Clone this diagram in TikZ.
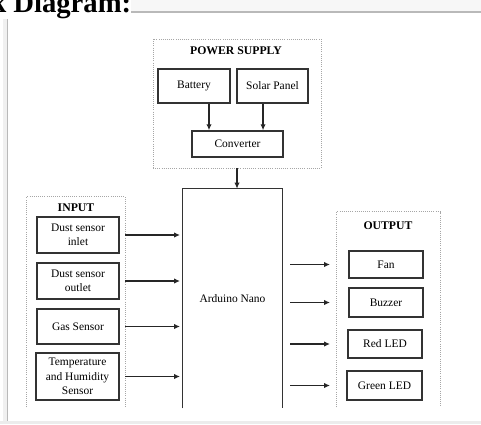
\documentclass[tikz,border=0pt]{standalone}
\usepackage{fontspec}
\setmainfont{Liberation Serif}
\usetikzlibrary{arrows.meta}

\tikzset{
  blk/.style={draw=black!80, line width=1.05pt, align=center, inner sep=1pt,
    font=\fontsize{8.6}{10.8}\selectfont},
  grp/.style={draw=gray!70, densely dotted, line width=0.6pt},
  hdr/.style={font=\fontsize{8.8}{10}\selectfont\bfseries},
  arr/.style={-{Latex[length=4.5pt,width=4pt]}, line width=1pt, black!85},
  side/.style={black!80, line width=1.05pt}
}

\begin{document}
\begin{tikzpicture}[x=0.75pt,y=-0.75pt]
	\useasboundingbox (0,0) rectangle (481,424);
	\fill[gray!6] (0,0) rectangle (481,11);
	\fill[gray!12] (3,12) rectangle (7,421);
	\draw[gray!55, line width=0.8pt] (7,12) -- (481,12);
	\draw[gray!55, line width=1.2pt] (7.5,12) -- (7.5,421);
	\fill[gray!15] (0,421) rectangle (481,424);
	\node[anchor=base west, fill=white, inner sep=0pt,
	  font=\fontsize{21.5}{24}\selectfont\bfseries] (ttl) at (-10,13) {k Diagram:};

	\node[grp, minimum width=126pt, minimum height=96.75pt] (pwr) at (237,103.5) {};
	\node[hdr] (pwrlbl) at (236,51) {POWER SUPPLY};
	\node[blk, minimum width=54pt, minimum height=25.5pt] (bat) at (194,86) {Battery};
	\node[blk, minimum width=53.25pt, minimum height=25.5pt] (sol) at (272.5,86) {Solar Panel};
	\node[blk, minimum width=68.25pt, minimum height=19.5pt] (conv) at (237.5,144) {Converter};

	\node[minimum width=74.25pt, minimum height=164.25pt,
	  font=\fontsize{8.6}{10.8}\selectfont] (nano) at (232.5,298.5) {Arduino Nano};
	\draw[side] (nano.south west) |- (nano.north east) -- (nano.south east);

	\node[minimum width=73.5pt, minimum height=157.5pt] (inp) at (76,302) {};
	\draw[grp] (inp.south west) |- (inp.north east) -- (inp.south east);
	\node[hdr] (inlbl) at (76,208) {INPUT};
	\node[blk, minimum width=61.5pt, minimum height=27pt] (in1) at (78,235) {Dust sensor\\inlet};
	\node[blk, minimum width=61.5pt, minimum height=27pt] (in2) at (78,281) {Dust sensor\\outlet};
	\node[blk, minimum width=61.5pt, minimum height=26.25pt] (in3) at (78,326.5) {Gas Sensor};
	\node[blk, minimum width=62.25pt, minimum height=35.25pt] (in4) at (77.5,376.5) {Temperature\\and Humidity\\Sensor};

	\node[minimum width=77.25pt, minimum height=146.25pt] (outp) at (388.5,309.5) {};
	\draw[grp] (outp.south west) |- (outp.north east) -- (outp.south east);
	\node[hdr] (outlbl) at (388,226) {OUTPUT};
	\node[blk, minimum width=55.5pt, minimum height=20.25pt] (o1) at (386,264.5) {Fan};
	\node[blk, minimum width=55.5pt, minimum height=21.75pt] (o2) at (386,302.5) {Buzzer};
	\node[blk, minimum width=55.5pt, minimum height=21pt] (o3) at (385,344) {Red LED};
	\node[blk, minimum width=56.25pt, minimum height=21.75pt] (o4) at (384.5,385.5) {Green LED};

	\draw[arr] ([xshift=11.25pt]bat.south) -- ([xshift=11.25pt]bat.south |- conv.north);
	\draw[arr] ([xshift=-7.1pt]sol.south) -- ([xshift=-7.1pt]sol.south |- conv.north);
	\draw[arr] (pwr.south) -- (pwr.south |- nano.north);
	\foreach \n in {in1,in2,in3,in4}
		\draw[arr, shorten >=2pt] (\n -| inp.east) -- (\n -| nano.west);
	\foreach \n in {o1,o2,o3,o4}
		\draw[arr, shorten <=6pt, shorten >=5pt] (\n -| nano.east) -- (\n -| outp.west);
\end{tikzpicture}
\end{document}
